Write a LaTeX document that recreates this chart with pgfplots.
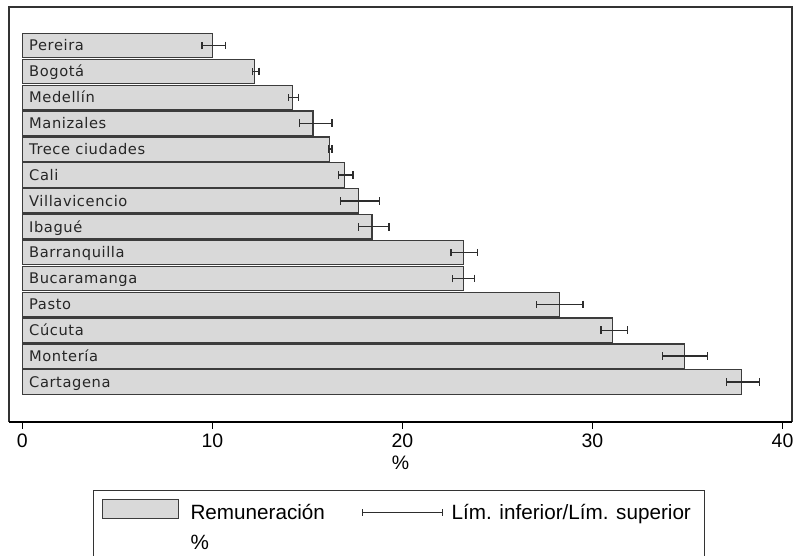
\documentclass[border=0pt]{standalone}
\usepackage{fontspec}
\setmainfont{Liberation Sans}
\newfontfamily\dejavu[LetterSpace=4]{DejaVu Sans}
\usepackage{pgfplots}
\usepackage{pgfplotstable}
\pgfplotsset{compat=1.18}
\definecolor{barfill}{RGB}{217,217,217}
\definecolor{baredge}{RGB}{60,60,60}
\definecolor{errcol}{RGB}{45,45,45}

\pgfplotstableread{
y val lo hi
13 10.00 9.45 10.70
12 12.20 12.10 12.45
11 14.20 14.00 14.55
10 15.30 14.60 16.30
9 16.15 16.10 16.30
8 16.95 16.65 17.40
7 17.70 16.75 18.80
6 18.40 17.70 19.30
5 23.20 22.55 23.95
4 23.20 22.65 23.80
3 28.25 27.05 29.50
2 31.05 30.45 31.85
1 34.85 33.70 36.05
0 37.85 37.05 38.80
}\datatable

\begin{document}
\begin{tikzpicture}
\useasboundingbox (0,0) rectangle (594.75pt,417pt);
\begin{axis}[
  at={(6.75pt,100.7pt)}, anchor=south west,
  scale only axis, width=587.25pt, height=311pt,
  xmin=-0.7, xmax=40.5, ymin=-1.535, ymax=14.49,
  xtick={0,10,20,30,40},
  ytick={0,...,13},
  yticklabels={Cartagena,Montería,Cúcuta,Pasto,Bucaramanga,Barranquilla,Ibagué,Villavicencio,Cali,Trece ciudades,Manizales,Medellín,Bogotá,Pereira},
  tick align=outside,
  xtick pos=bottom, ytick pos=left,
  major tick length=5.3pt,
  x tick style={line width=0.8pt, black},
  y tick style={draw=none},
  yticklabel style={font=\dejavu\fontsize{11}{13}\selectfont, text=black!85, anchor=base west, inner sep=0pt, xshift=20.25pt, yshift=-4pt},
  xticklabel style={font=\fontsize{14.6}{17}\selectfont},
  /pgf/number format/assume math mode=true,
  xlabel={\%},
  xlabel style={font=\fontsize{14.6}{17}\selectfont},
  axis line style={draw=black!80, line width=1pt},
  axis on top,
  legend columns=2,
  legend cell align=left,
  legend style={
    at={(axis description cs:0.1069,-0.1647)}, anchor=north west,
    draw=black!80, line width=0.8pt,
    inner xsep=0pt, inner ysep=6.2pt,
    font=\fontsize{15.5}{18}\selectfont,
    nodes={inner sep=0pt, anchor=base west},
    column sep=0pt,
    row sep={22.5pt,between origins},
  },
  after end axis/.code={\draw[line width=1.7pt, black] (rel axis cs:0,0) -- (rel axis cs:1,0);},
]
\addplot[xbar, bar width=18.3pt, fill=barfill, draw=baredge, line width=0.9pt,
  legend image code/.code={\path[draw=none, fill=none] (0pt,0pt) -- (73pt,0pt); \draw[fill=barfill, draw=baredge, line width=0.9pt] (6.75pt,0.2pt) rectangle (64.2pt,14.8pt);}]
  table[x=val, y=y] {\datatable};
\addlegendentry{Remuneración}
\addplot[draw=none, mark=none,
  error bars/.cd, x dir=both, x explicit,
  error mark=|,
  error bar style={draw=errcol, line width=0.95pt},
  error mark options={draw=errcol, line width=0.95pt, mark size=2.9pt},
  /pgfplots/legend image code/.code={\path[draw=none] (0pt,0pt) -- (95pt,0pt);
    \draw[errcol, line width=0.8pt] (27.95pt,5.25pt) -- (88.4pt,5.25pt);
    \draw[errcol, line width=0.8pt] (27.95pt,2.65pt) -- (27.95pt,7.85pt);
    \draw[errcol, line width=0.8pt] (88.4pt,2.65pt) -- (88.4pt,7.85pt);}]
  table[x=val, y=y, x error plus expr=\thisrow{hi}-\thisrow{val}, x error minus expr=\thisrow{val}-\thisrow{lo}] {\datatable};
\addlegendentry{Lím. inferior/Lím. superior\hspace*{10.3pt}}
\addlegendimage{empty legend}
\addlegendentry{\%}
\end{axis}
\end{tikzpicture}
\end{document}
